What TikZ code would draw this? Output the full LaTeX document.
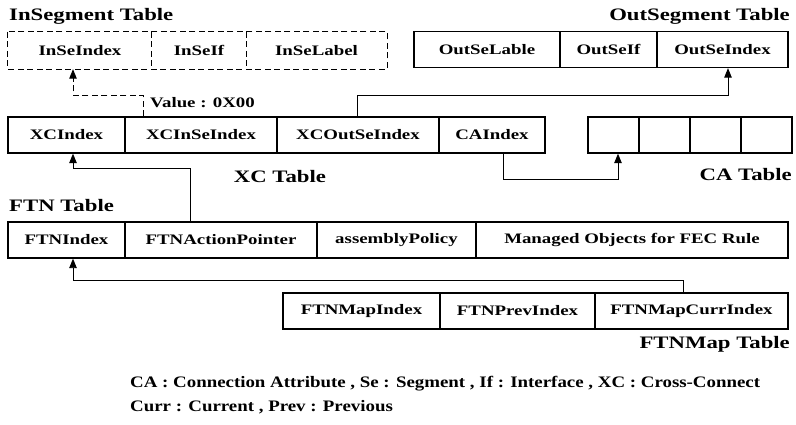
\documentclass[tikz,border=0pt]{standalone}
\usepackage{fontspec}
\setmainfont[FakeStretch=1.3]{Liberation Serif}
\newfontfamily\legendfont[FakeStretch=1.18]{Liberation Serif}
\usetikzlibrary{arrows.meta}
\begin{document}
\begin{tikzpicture}[x=1pt,y=-1pt,
  cell/.style={draw,line width=1.3pt,minimum height=36pt,inner sep=0pt,
    font=\bfseries\fontsize{14.5}{16}\selectfont},
  dcell/.style={minimum height=37pt,inner sep=0pt,
    font=\bfseries\fontsize{14.5}{16}\selectfont},
  title/.style={inner sep=0pt,font=\bfseries\fontsize{17.5}{20}\selectfont},
  link/.style={line width=0.9pt,-{Triangle[width=7.5pt,length=9.5pt]}},
  note/.style={inner sep=0pt,anchor=west,font=\legendfont\bfseries\fontsize{16}{18}\selectfont}]
\useasboundingbox (0,0) rectangle (796,425);

% InSegment table (dashed)
\node[dcell,minimum width=144pt] (inseidx) at (80,50.5) {InSeIndex};
\node[dcell,minimum width=94pt]  (inseif)  at (199,50.5) {InSeIf};
\node[dcell,minimum width=141pt] (inselab) at (316.5,50.5) {InSeLabel};
\draw[line width=1.3pt,dash pattern=on 6pt off 3.5pt]
  (inseidx.north west) rectangle (inselab.south east)
  (inseif.north west) -- (inseif.south west)
  (inseif.north east) -- (inseif.south east);
\node[title,anchor=west] (insegt) at (9,16) {InSegment Table};

% OutSegment table
\node[cell,minimum width=146pt] (outlab) at (487,49.5) {OutSeLable};
\node[cell,minimum width=97pt]  (outif)  at (608.5,49.5) {OutSeIf};
\node[cell,minimum width=131pt] (outidx) at (722.5,49.5) {OutSeIndex};
\node[title,anchor=east] (outsegt) at (790,16) {OutSegment Table};

% XC table
\node[cell,minimum width=117pt] (xcidx)  at (66.5,135) {XCIndex};
\node[cell,minimum width=152pt] (xcin)   at (201,135) {XCInSeIndex};
\node[cell,minimum width=162pt] (xcout)  at (358,135) {XCOutSeIndex};
\node[cell,minimum width=106pt] (xcca)   at (492,135) {CAIndex};
\node[title] (xct) at (280,177) {XC Table};

% CA table
\node[cell,minimum width=51pt] (ca1) at (613.5,135) {};
\node[cell,minimum width=51pt] (ca2) at (664.5,135) {};
\node[cell,minimum width=51pt] (ca3) at (715.5,135) {};
\node[cell,minimum width=51pt] (ca4) at (766.5,135) {};
\node[title,anchor=east] (cat) at (792,175) {CA Table};

% FTN table
\node[title,anchor=west] (ftnt) at (9,206) {FTN Table};
\node[cell,minimum width=117pt] (ftnidx) at (66.5,240) {FTNIndex};
\node[cell,minimum width=192pt] (ftnact) at (221,240) {FTNActionPointer};
\node[cell,minimum width=159pt] (ftnasm) at (396.5,240) {assemblyPolicy};
\node[cell,minimum width=312pt] (ftnmo)  at (632,240) {Managed Objects for FEC Rule};

% FTNMap table
\node[cell,minimum width=157pt] (mapidx)  at (361.5,311) {FTNMapIndex};
\node[cell,minimum width=155pt] (mapprev) at (517.5,311) {FTNPrevIndex};
\node[cell,minimum width=193pt] (mapcurr) at (691.5,311) {FTNMapCurrIndex};
\node[title,anchor=east] (mapt) at (790,344) {FTNMap Table};

% connectors
\coordinate (vbend) at (143,95);
\draw[link,dash pattern=on 6pt off 3.5pt]
  (xcin.north -| vbend) -- (vbend) -| ([xshift=-7pt]inseidx.south);
\node[inner sep=0pt,anchor=west,font=\bfseries\fontsize{14.5}{16}\selectfont]
  (val) at (150,103) {Value : 0X00};

\coordinate (obend) at (357,95);
\draw[link] (xcout.north -| obend) -- (obend) -| ([xshift=5.5pt]outidx.south);

\coordinate (cbend) at (503,179);
\draw[link] (xcca.south -| cbend) -- (cbend) -| ([xshift=4.5pt]ca1.south);

\coordinate (fbend) at (190,168);
\draw[link] (ftnact.north -| fbend) -- (fbend) -| ([xshift=6.5pt]xcidx.south);

\coordinate (mbend) at (683,280);
\draw[link] (mapcurr.north -| mbend) -- (mbend) -| ([xshift=6.5pt]ftnidx.south);

% legend
\node[note] (leg1) at (130,384) {CA : Connection Attribute , Se : Segment , If : Interface , XC : Cross-Connect};
\node[note] (leg2) at (130,407) {Curr : Current , Prev : Previous};
\end{tikzpicture}
\end{document}
